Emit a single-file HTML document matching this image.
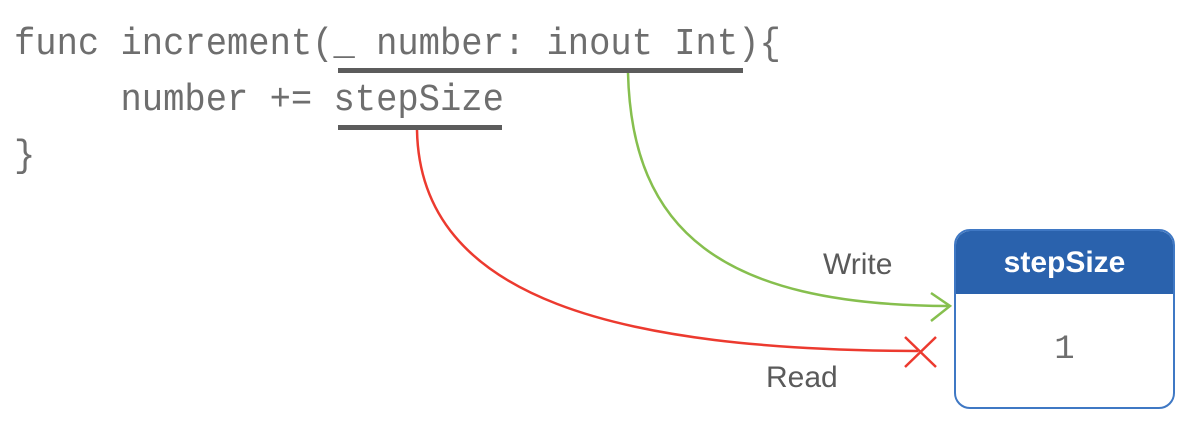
<!DOCTYPE html>
<html><head><meta charset="utf-8"><style>
html,body{margin:0;padding:0;background:#fff;}
body{width:1192px;height:434px;position:relative;overflow:hidden;font-family:"Liberation Sans",sans-serif;}
.code{position:absolute;left:14px;font-family:"Liberation Mono",monospace;font-size:38px;letter-spacing:0px;color:#6e6e6e;white-space:pre;line-height:1;transform:scaleX(0.934);transform-origin:0 0;}
.lbl{position:absolute;font-size:30px;color:#5a5a5a;}
.box{position:absolute;left:954px;top:229px;width:217px;height:176px;border:2px solid #3f78c4;border-radius:16px;overflow:hidden;background:#fff;}
.hdr{height:63px;background:#2a62ad;color:#fff;font-weight:bold;font-size:30px;text-align:center;line-height:64px;}
.val{text-align:center;font-family:"Liberation Mono",monospace;font-size:34px;color:#6e6e6e;line-height:112px;}
</style></head><body>
<div class="code" style="top:26px">func increment(_ number: inout Int){</div>
<div class="code" style="top:82px">     number += stepSize</div>
<div class="code" style="top:138px">}</div>
<svg width="1192" height="434" style="position:absolute;left:0;top:0">
<rect x="338" y="68" width="405" height="5" fill="#5c5c5c"/>
<rect x="338" y="125" width="164" height="5" fill="#5c5c5c"/>
<path d="M628 73 C 632 230, 720 305, 948 306" fill="none" stroke="#86bf4e" stroke-width="2.5"/>
<path d="M931 293 L950 306 L931 321" fill="none" stroke="#86bf4e" stroke-width="2.5"/>
<path d="M417 130 C 420 300, 620 350, 918 351" fill="none" stroke="#ec3a2f" stroke-width="2.5"/>
<path d="M905 337 L936 367 M936 337 L905 367" stroke="#ec3a2f" stroke-width="2.5"/>
</svg>
<div class="lbl" style="left:823px;top:248px">Write</div>
<div class="lbl" style="left:766px;top:361px">Read</div>
<div class="box"><div class="hdr">stepSize</div><div class="val">1</div></div>
</body></html>
